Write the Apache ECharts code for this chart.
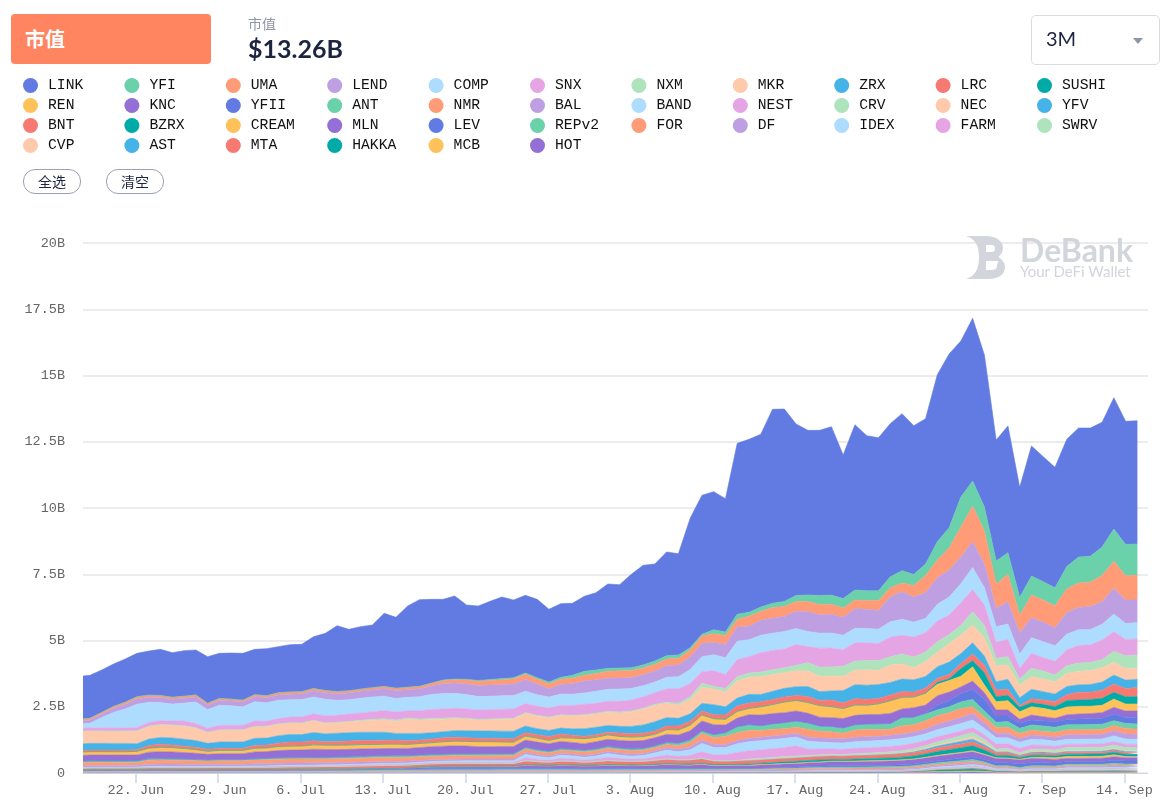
<!DOCTYPE html>
<html>
<head>
<meta charset="utf-8">
<title>市值</title>
<script src="https://cdn.jsdelivr.net/npm/echarts@6/dist/echarts.min.js"></script>
<style>
  html, body { margin: 0; padding: 0; background: #fff; }
  #main { position: absolute; left: 0; top: 0; width: 1175px; height: 809px; }
  .tag { position: absolute; left: 11px; top: 14px; width: 186px; height: 50px; padding-left: 14px; background: #ff8560; border-radius: 4px; color: #fff; font: bold 20px/50px Lato, "Noto Sans CJK SC", sans-serif; }
  .sub { position: absolute; left: 248px; top: 15px; color: #8f95a8; font: 14px/18px Lato, "Noto Sans CJK SC", sans-serif; }
  .num { position: absolute; left: 248px; top: 33px; color: #1c2440; font: bold 25px/30px Lato, sans-serif; }
  .sel { position: absolute; left: 1031px; top: 15px; width: 127px; height: 48px; border: 1px solid #d9dbe3; border-radius: 5px; color: #1c2440; font: 20px/44px Lato, sans-serif; text-indent: 14px; }
  .sel i { position: absolute; left: 101px; top: 22px; border: 5.5px solid transparent; border-top: 6px solid #8f95a8; border-bottom: 0; }
  .btn { position: absolute; top: 169px; width: 56px; height: 23px; border: 1px solid #9aa0b5; border-radius: 12px; color: #1c2440; background: #fff; text-align: center; font: 14px/23px "Noto Sans CJK SC", sans-serif; cursor: pointer; }
  .mark { position: absolute; left: 1020px; color: #d3d5dc; font-family: Lato, sans-serif; white-space: nowrap; }
</style>
</head>
<body>
<div id="main"></div>
<div class="tag">市值</div>
<div class="sub">市值</div>
<div class="num">$13.26B</div>
<div class="sel">3M<i></i></div>
<div class="btn" id="allOn" style="left:23px">全选</div>
<div class="btn" id="allOff" style="left:106px">清空</div>
<svg style="position:absolute;left:965px;top:235px" width="42" height="45" viewBox="0 0 42 45">
  <path fill="#d3d5dc" d="M1 1h20c10 0 17 5 17 12 0 4-2 7-5 9 4 2 7 6 7 10 0 8-7 12-17 12H1c9-3 13-10 13-22S10 4 1 1zm20 9v7h5c3 0 4-1 4-3.500S29 10 26 10zm0 16v9h6c3 0 5-2 5-4.500S35 26 32 26z"/>
</svg>
<div class="mark" style="top:235px;font-size:32px;font-weight:bold;line-height:29px">DeBank</div>
<div class="mark" style="top:264px;font-size:15px;line-height:14px">Your DeFi Wallet</div>
<script>
const names = ['LINK', 'YFI', 'UMA', 'LEND', 'COMP', 'SNX', 'NXM', 'MKR', 'ZRX', 'LRC', 'SUSHI',
  'REN', 'KNC', 'YFII', 'ANT', 'NMR', 'BAL', 'BAND', 'NEST', 'CRV', 'NEC', 'YFV',
  'BNT', 'BZRX', 'CREAM', 'MLN', 'LEV', 'REPv2', 'FOR', 'DF', 'IDEX', 'FARM', 'SWRV',
  'CVP', 'AST', 'MTA', 'HAKKA', 'MCB', 'HOT']
const colors = ['#617be3', '#6ad1aa', '#ff9b77', '#bd9fe2', '#aedcfe', '#e5a5e4', '#aee3bc', '#ffcaab', '#45b2e8', '#f77a72', '#00aaa6', '#ffc15a', '#936fd6']
const tickLabels = ['22. Jun', '29. Jun', '6. Jul', '13. Jul', '20. Jul', '27. Jul', '3. Aug', '10. Aug', '17. Aug', '24. Aug', '31. Aug', '7. Sep', '14. Sep']
const yLabels = ['0', '2.5B', '5B', '7.5B', '10B', '12.5B', '15B', '17.5B', '20B']

// market cap per token, millions
const LINK = [1626,1623,1601,1602,1633,1639, 1667,1743,1683,1720,1695,1761,1706,1742,1766,1712, 1778,1743,1786,1789,1957,2159,2487,2320,2357,2366, 2760,2675,3068,3271,3164,3048,3134,2804,2809,2951, 3078,2931,2931,2956,2743,2781,2717,2831,2919,3183, 3145,3523,3761,3661,3913,3825,4881,5246,5210,5033, 6446,6527,6518,7317,7260,6469,6211,6233,6354,5418, 6240,5855,5778,5778,5924,5611,5486,6302,6557,5886, 6141,5735,4565,4779,4150,4905,4716,4540,4795,4869, 4836,4704,4956,4645,4652]
const YFI = [0,0,0,0,0,0, 0,0,0,0,0,0,0,0,0,0, 0,0,0,0,0,0,0,0,0,0, 0,0,0,0,5,12,20,25,30,35, 40,45,50,45,63,70,100,150,130,110, 100,105,115,125,125,125,90,63,150,125, 190,150,160,160,190,230,250,340,350,350, 377,365,365,415,465,415,428,692,755,1132, 943,906,868,818,667,717,692,679,843,981, 981,1069,1220,1182,1170]
const UMA = [70,72,72,75,78,80, 78,75,72,72,75,70,72,72,72,75, 75,78,80,80,80,78,78,80,80,82, 85,85,88,90,100,126,130,150,165,175, 180,190,190,195,190,200,210,214,240,260, 277,265,255,250,250,250,265,277,327,340, 290,377,340,402,377,370,377,390,377,352, 327,327,377,340,327,440,642,667,843,1132, 1346,1258,918,1031,667,855,843,830,893,918, 918,994,1019,918,943]
const LEND = [105,110,120,150,170,200, 190,190,185,185,195,165,180,180,180,190, 190,200,210,215,240,250,250,255,265,270, 280,300,290,300,320,365,390,400,415,420, 430,440,450,400,315,360,400,453,430,420, 415,410,415,415,440,440,470,503,465,503, 541,503,566,566,566,650,755,692,704,679, 742,730,704,943,1044,943,981,1006,1019,1006, 969,881,692,843,805,755,730,679,818,843, 868,855,969,881,855]
const COMP = [170,176,390,591,717,881, 760,680,640,680,805,704,755,730,692,730, 692,692,654,654,629,629,566,541,553,553, 541,516,503,528,566,591,566,541,503,503, 503,503,465,440,415,428,428,428,453,453, 465,440,415,403,440,465,528,566,604,629, 692,642,654,654,667,604,566,566,566,553, 541,541,541,579,604,566,541,629,679,717, 830,654,591,579,541,591,604,591,591,591, 579,591,667,604,616]
const SNX = [115,115,115,115,118,125, 140,150,150,176,164,150,176,176,176,200, 190,200,220,230,250,264,264,277,277,289, 314,302,277,314,340,340,352,352,352,352, 352,352,340,340,340,352,365,390,377,377, 403,415,428,440,503,541,503,440,591,528, 650,620,730,730,700,787,604,717,717,616, 692,667,642,742,704,755,730,780,730,855, 843,767,604,654,403,566,503,516,604,667, 667,742,742,616,604]
const NXM = [5,5,5,5,5,5, 5,5,5,5,5,5,5,5,5,8, 8,8,8,8,8,8,10,12,25,30, 40,50,40,40,38,38,35,30,28,28, 25,25,25,25,25,25,25,25,30,35, 38,38,40,40,50,63,100,151,100,138, 150,160,180,180,190,200,314,340,340,377, 340,352,365,314,377,403,352,403,340,377, 503,465,289,314,226,314,302,252,289,314, 302,302,415,478,503]
const MKR = [465,465,465,460,465,478, 480,480,480,503,478,415,453,453,453,440, 440,440,428,428,453,403,403,415,428,453, 465,453,541,503,503,478,453,440,415,428, 453,465,478,478,478,478,490,503,503,503, 503,541,591,616,528,503,541,604,591,553, 654,642,667,629,591,600,591,579,566,541, 553,579,541,654,566,453,566,541,704,692, 667,692,591,541,478,478,478,465,490,503, 528,541,478,440,415]
const ZRX = [250,252,250,250,250,226, 245,260,264,264,252,226,239,239,239,277, 260,280,290,280,314,302,314,314,314,314, 302,252,277,252,239,226,252,264,277,277, 277,289,252,226,226,226,239,289,277,252, 252,277,314,352,314,289,277,289,377,314, 289,327,277,314,327,330,377,340,340,465, 528,528,528,478,478,465,440,440,465,377, 428,340,314,377,302,352,314,289,314,289, 289,314,340,314,314]
const LRC = [60,63,63,63,63,63, 100,113,100,88,88,75,75,75,75,100, 113,126,151,151,151,126,140,151,151,151, 151,151,138,130,135,151,145,140,126,126, 130,126,130,130,151,140,110,88,100,100, 126,126,126,126,140,151,150,151,151,164, 214,201,189,189,189,190,226,189,252,214, 239,226,201,214,214,189,189,151,164,189, 252,289,252,226,63,151,164,189,214,289, 277,302,314,314,340]
const SUSHI = [0,0,0,0,0,0, 0,0,0,0,0,0,0,0,0,0, 0,0,0,0,0,0,0,0,0,0, 0,0,0,0,0,0,0,0,0,0, 0,0,0,0,0,0,0,0,0,0, 0,0,0,0,0,0,0,0,0,0, 0,0,0,0,0,0,0,0,0,0, 0,0,0,0,0,0,12,75,63,289, 226,465,189,201,164,151,151,151,252,239, 252,264,252,277,277]
const REN = [126,126,126,126,126,138, 151,164,164,151,138,113,126,126,126,138, 138,151,151,151,164,164,164,164,164,164, 164,164,151,151,151,164,176,176,189,189, 176,164,151,151,126,138,164,189,164,164, 151,151,151,126,176,189,214,226,226,214, 252,239,314,340,402,400,402,440,415,377, 390,352,402,478,440,402,440,428,440,402, 541,289,314,352,289,314,314,289,289,289, 277,277,314,264,264]
const KNC = [226,226,226,226,226,226, 252,264,264,252,239,214,226,226,226,264, 260,280,285,285,314,302,289,289,289,277, 277,277,277,289,302,314,314,302,277,277, 277,277,277,289,289,277,264,252,277,277, 289,302,302,314,314,314,340,377,377,289, 327,377,402,390,377,377,365,332,332,357, 355,355,355,380,310,347,300,352,314,252, 314,252,226,226,151,189,151,126,189,189, 189,214,252,239,239]
const YFII = [0,0,0,0,0,0, 0,0,0,0,0,0,0,0,0,0, 0,0,0,0,0,0,0,0,0,0, 0,0,0,0,0,0,0,0,0,0, 0,0,0,0,0,0,0,0,0,0, 0,0,0,0,0,5,8,10,10,12, 12,14,15,15,16,18,25,20,20,20, 22,22,25,28,30,30,40,189,239,314, 377,440,239,214,189,189,201,214,189,214, 226,226,252,226,252]
const ANT = [50,50,50,50,55,60, 50,50,50,48,45,40,42,42,42,45, 48,50,52,52,55,58,60,60,60,62, 62,63,63,63,63,63,63,63,63,63, 63,63,63,63,63,63,63,63,63,63, 63,63,63,63,70,88,88,88,100,126, 214,201,164,189,214,214,214,176,176,176, 176,176,189,189,289,264,252,214,226,252, 277,226,189,214,189,189,201,189,189,189, 189,189,189,189,201]
const NMR = [126,126,126,120,110,100, 151,151,145,140,135,126,130,130,130,140, 145,151,151,151,145,138,140,140,145,151, 151,151,140,135,130,126,126,126,126,126, 126,126,126,120,113,113,113,126,126,126, 126,126,120,113,120,126,170,252,252,314, 289,302,252,252,226,230,302,252,252,214, 277,289,252,226,314,277,314,327,314,340, 252,214,226,226,189,189,164,189,189,189, 189,189,189,214,189]
const BAL = [60,60,60,62,64,70, 88,90,88,85,82,78,80,80,80,84, 86,88,88,88,85,82,82,80,78,76, 76,72,70,68,66,63,66,68,68,70, 72,72,74,70,66,68,70,74,76,76, 80,82,84,88,92,100,110,120,120,110, 126,126,130,135,140,145,151,150,163,155, 165,165,165,170,175,175,180,200,215,226, 252,220,170,172,145,160,157,150,170,172, 172,175,195,190,189]
const BAND = [13,13,14,14,15,15, 22,24,24,24,22,20,22,22,22,24, 25,28,30,30,32,33,34,34,35,38, 40,42,42,44,46,50,52,54,54,55, 55,55,128,103,87,117,111,95,110,139, 118,108,117,151,187,171,207,316,280,270, 330,340,345,345,345,330,300,270,239,240, 250,250,250,255,250,250,250,270,272,275, 277,240,230,225,225,215,200,185,185,186, 188,188,210,190,189]
const NEST = [12,13,13,14,14,15, 20,21,21,20,20,20,20,20,20,22, 23,25,26,27,28,30,30,31,32,33, 34,35,35,36,37,38,39,40,40,40, 40,41,114,91,77,105,98,85,98,124, 103,89,95,121,152,131,167,246,220,230, 300,314,320,330,340,387,240,220,201,195, 200,200,200,200,205,210,200,190,190,188, 189,170,190,180,175,160,150,140,125,125, 125,125,135,127,126]
const CRV = [0,0,0,0,0,0, 0,0,0,0,0,0,0,0,0,0, 0,0,0,0,0,0,0,0,0,0, 0,0,0,0,0,0,0,0,0,0, 0,0,0,0,0,0,0,0,0,0, 0,0,0,0,0,0,0,0,0,0, 0,38,40,42,45,45,38,38,38,38, 50,55,60,65,75,80,90,110,120,140, 164,130,80,90,60,85,85,85,110,110, 110,110,120,115,113]
const NEC = [5,6,6,6,6,6, 7,7,7,7,7,7,7,7,8,8, 8,9,9,9,10,10,10,11,11,11, 12,12,12,13,13,13,13,13,14,14, 14,14,14,14,14,14,14,14,14,14, 15,15,15,15,15,15,14,14,14,14, 13,13,13,13,13,13,13,13,13,13, 14,15,16,18,20,30,40,50,60,72, 88,70,25,28,20,28,27,27,36,36, 37,37,40,38,38]
const YFV = [0,0,0,0,0,0, 0,0,0,0,0,0,0,0,0,0, 0,0,0,0,0,0,0,0,0,0, 0,0,0,0,0,0,0,0,0,0, 0,0,0,0,0,0,0,0,0,0, 0,0,0,0,0,5,8,10,10,10, 12,13,13,13,13,13,13,13,13,13, 15,15,15,18,20,30,45,60,75,90, 100,70,40,42,30,38,37,36,38,38, 38,38,42,38,38]
const BNT = [60,63,63,63,64,66, 70,72,72,70,70,75,75,75,75,78, 80,84,86,88,88,90,92,94,96,98, 100,100,98,95,92,88,88,86,86,84, 84,84,131,116,105,124,119,109,118,138, 122,114,118,136,153,134,135,160,118,115, 120,126,126,126,126,126,126,126,126,124, 126,126,126,128,130,130,135,140,145,148, 151,130,100,100,70,80,78,72,70,70, 68,68,72,65,63]
const BZRX = [0,0,0,0,0,0, 0,0,0,0,0,0,0,0,0,0, 0,0,0,0,0,0,0,0,0,0, 0,0,0,8,14,20,25,25,25,25, 25,25,25,25,25,25,25,25,25,25, 30,30,30,32,35,38,38,38,36,34, 36,38,45,55,65,68,72,75,70,68, 75,80,85,90,100,110,125,150,160,175, 189,160,90,95,65,80,80,78,88,88, 88,88,95,88,88]
const CREAM = [0,0,0,0,0,0, 0,0,0,0,0,0,0,0,0,0, 0,0,0,0,0,0,0,0,0,0, 0,0,0,0,0,0,0,0,0,0, 0,0,0,0,0,0,0,0,0,0, 0,2,3,4,6,8,10,12,12,12, 12,13,14,14,14,14,16,20,25,24, 24,24,25,25,25,25,28,30,33,35, 38,32,25,26,18,40,60,62,70,70, 70,70,75,40,38]
const MLN = [24,25,25,25,26,26, 30,30,30,30,30,30,30,30,30,32, 32,33,34,35,35,36,36,37,38,39, 40,40,50,60,70,75,75,75,75,75, 75,75,124,109,100,119,112,102,112,132, 120,110,114,132,151,134,130,154,108,106, 110,113,118,124,130,135,140,145,150,150, 152,155,158,160,165,170,172,175,180,185, 189,170,160,152,160,150,140,130,120,120, 120,122,130,125,126]
const LEV = [3,3,3,3,3,3, 3,3,3,3,3,3,3,3,3,3, 3,3,3,3,3,3,3,8,14,15, 18,20,25,30,35,38,38,38,38,38, 38,38,38,38,38,38,36,35,34,33, 32,32,31,31,30,30,28,26,25,25, 25,25,28,30,32,35,40,44,50,50, 52,54,56,58,60,60,65,75,85,95, 100,90,117,111,128,125,122,114,100,100, 102,105,115,113,113]
const REPv2 = [18,19,19,19,19,19, 19,19,19,19,19,19,19,20,20,20, 21,22,23,24,25,26,27,28,28,29, 30,30,32,34,36,38,38,38,38,38, 38,38,38,38,38,38,38,36,35,35, 38,36,34,32,30,28,28,26,26,26, 25,25,26,28,30,32,34,36,38,38, 38,38,40,40,42,44,48,52,56,60, 63,52,40,42,35,42,42,40,48,48, 48,48,54,50,50]
const FOR = [5,6,6,6,6,6, 8,8,8,8,8,8,8,9,9,10, 10,11,12,12,13,14,15,16,17,18, 19,20,21,22,24,25,25,25,25,25, 25,25,25,25,25,25,25,25,25,25, 25,25,25,25,25,25,25,25,25,25, 25,25,28,32,36,40,44,46,50,50, 50,50,50,50,52,52,54,56,58,60, 63,50,35,35,25,33,33,32,38,38, 38,38,42,38,38]
const DF = [12,13,13,13,13,13, 13,13,13,13,13,13,13,13,13,13, 13,13,13,13,13,13,13,13,13,13, 13,13,13,13,13,13,14,14,14,14, 15,15,15,15,15,16,16,16,17,17, 18,18,20,22,24,25,25,25,25,26, 27,28,30,32,34,35,36,37,38,38, 38,38,40,40,42,45,48,52,56,60, 63,52,35,36,28,38,38,36,48,48, 48,48,52,50,50]
const IDEX = [13,13,13,13,13,13, 12,12,12,12,12,12,12,12,12,12, 12,12,12,12,12,12,12,12,12,12, 12,12,12,12,12,12,12,12,12,12, 12,12,12,12,12,12,12,12,12,12, 12,12,12,12,13,13,15,18,20,20, 22,24,26,28,30,32,34,36,38,38, 38,38,38,38,38,40,42,44,46,48, 50,42,28,30,22,28,28,28,36,36, 36,36,40,38,38]
const FARM = [0,0,0,0,0,0, 0,0,0,0,0,0,0,0,0,0, 0,0,0,0,0,0,0,0,0,0, 0,0,0,0,0,0,0,0,0,0, 0,0,0,0,0,0,0,0,0,0, 0,0,0,0,0,0,0,0,0,0, 0,0,0,0,0,0,0,0,0,0, 0,0,0,0,0,5,15,20,25,30, 38,30,15,16,12,18,18,18,25,25, 25,25,27,25,25]
const SWRV = [0,0,0,0,0,0, 0,0,0,0,0,0,0,0,0,0, 0,0,0,0,0,0,0,0,0,0, 0,0,0,0,0,0,0,0,0,0, 0,0,0,0,0,0,0,0,0,0, 0,0,0,0,0,0,0,0,0,0, 0,0,0,0,0,0,0,0,0,0, 0,0,0,0,0,0,8,13,18,22, 25,20,20,20,15,20,20,20,25,25, 25,25,27,25,25]
const CVP = [0,0,0,0,0,0, 0,0,0,0,0,0,0,0,0,0, 0,0,0,0,0,0,0,0,0,0, 0,0,0,0,0,0,0,0,0,0, 0,0,0,0,0,0,0,0,0,0, 0,0,0,0,0,0,0,0,0,0, 0,0,0,0,0,0,0,0,0,0, 0,0,0,0,0,0,0,0,0,0, 8,10,6,7,5,8,8,8,12,12, 13,13,14,13,13]
const AST = [13,13,13,13,13,13, 13,13,12,12,12,12,12,12,12,12, 12,11,11,10,10,10,10,9,9,9, 8,8,8,8,7,6,6,6,6,6, 6,6,6,6,6,6,6,6,7,7, 7,8,8,8,9,10,10,10,10,10, 11,11,12,12,12,12,13,13,13,13, 13,14,14,14,15,16,17,18,20,22, 25,20,14,15,12,16,16,16,22,22, 23,23,26,25,25]
const MTA = [12,13,13,13,13,13, 13,13,13,13,13,13,13,13,13,13, 13,13,13,13,13,13,13,13,13,13, 13,13,13,13,13,13,13,13,13,13, 13,13,13,13,13,13,13,13,13,13, 13,13,13,13,13,13,13,13,13,13, 13,13,13,13,13,13,13,13,13,13, 13,14,14,15,15,16,17,18,20,22, 25,20,14,15,12,16,16,16,22,22, 23,23,26,25,25]
const HAKKA = [0,0,0,0,0,0, 0,0,0,0,0,0,0,0,0,0, 0,0,0,0,0,0,0,0,0,0, 0,0,0,0,0,0,0,0,0,0, 0,0,0,0,0,0,0,0,0,0, 0,0,0,0,0,0,0,0,0,0, 0,0,0,0,0,0,2,3,4,4, 4,5,6,8,10,20,35,60,65,70, 75,60,30,28,20,26,25,25,26,26, 26,26,28,25,25]
const MCB = [3,3,3,3,3,3, 3,3,3,3,3,3,3,3,3,3, 3,3,3,4,4,4,4,4,5,5, 5,5,5,6,6,6,6,6,6,6, 6,6,6,6,6,6,6,6,6,6, 7,7,8,8,9,9,9,10,10,10, 10,10,11,11,12,12,13,13,13,13, 14,14,15,16,18,20,24,28,32,35, 38,32,18,18,12,14,14,14,14,14, 14,14,15,13,13]
const HOT = [13,13,13,13,13,13, 13,13,13,13,13,13,13,13,13,13, 13,13,13,13,13,13,13,13,13,13, 13,13,13,13,13,13,13,13,13,13, 13,13,13,13,13,13,13,13,13,13, 13,13,13,13,13,13,13,13,13,13, 13,13,13,13,13,13,13,13,13,13, 14,15,15,16,16,18,20,24,28,32, 38,30,16,16,12,14,14,14,14,14, 14,14,15,13,13]

const values = [LINK, YFI, UMA, LEND, COMP, SNX, NXM, MKR, ZRX, LRC, SUSHI, REN, KNC, YFII, ANT, NMR, BAL, BAND, NEST, CRV, NEC, YFV, BNT, BZRX, CREAM, MLN, LEV, REPv2, FOR, DF, IDEX, FARM, SWRV, CVP, AST, MTA, HAKKA, MCB, HOT]

// x is days counted from 22 Jun, ticks every 7 days from there
const tickDays = tickLabels.map((_, i) => i * 7)
// first sample is a part day, the rest come daily
const days = LINK.map((_, i) => i === 0 ? -4.49 : i - 5 + 0.1)

const chart = echarts.init(document.getElementById('main'))
const axisFont = { color: '#666', fontFamily: '"Liberation Mono", monospace', fontSize: 13.5 }

const legends = names.map((name, i) => ({
  data: [name],
  left: 23 + (i % 11) * 101.4,
  top: 78 + Math.floor(i / 11) * 20,
  icon: 'circle',
  itemWidth: 15,
  itemHeight: 17,
  symbolKeepAspect: false,
  padding: 0,
  textStyle: { color: '#111', fontFamily: '"Liberation Mono", monospace', fontSize: 14.7, padding: [2, 0, 0, 5] }
}))

// first series goes on top of the stack, so feed them bottom up
const series = names.map((name, i) => ({
  name,
  type: 'line',
  stack: 'cap',
  symbol: 'none',
  color: colors[i % colors.length],
  // thin line of the same colour closes the seams between the areas
  lineStyle: { width: 0.6 },
  areaStyle: { opacity: 1 },
  // value comes first: echarts stacks the first number column it finds
  encode: { x: 1, y: 0 },
  data: values[i].map((v, j) => [v, days[j]])
})).reverse()

chart.setOption({
  animation: false,
  legend: legends,
  grid: { left: 83, right: 27, top: 243, bottom: 36 },
  tooltip: { trigger: 'axis' },
  xAxis: {
    type: 'value',
    min: -4.49,
    max: 86,
    axisLine: { lineStyle: { color: '#ccd6eb' } },
    axisTick: { customValues: tickDays, length: 10, lineStyle: { color: '#ccd6eb', width: 1.5 } },
    axisLabel: {
      ...axisFont,
      customValues: tickDays,
      margin: 10,
      formatter: v => tickLabels[v / 7]
    },
    splitLine: { show: false }
  },
  yAxis: {
    type: 'value',
    min: 0,
    max: 20000,
    interval: 2500,
    axisLine: { show: false },
    axisTick: { show: false },
    axisLabel: { ...axisFont, margin: 18, formatter: v => yLabels[v / 2500] },
    splitLine: { lineStyle: { color: '#e6e6e6', width: 1.5 } }
  },
  series
})

document.getElementById('allOn').onclick = () => chart.dispatchAction({ type: 'legendAllSelect' })
document.getElementById('allOff').onclick = () => names.forEach(name => chart.dispatchAction({ type: 'legendUnSelect', name }))
</script>
</body>
</html>
